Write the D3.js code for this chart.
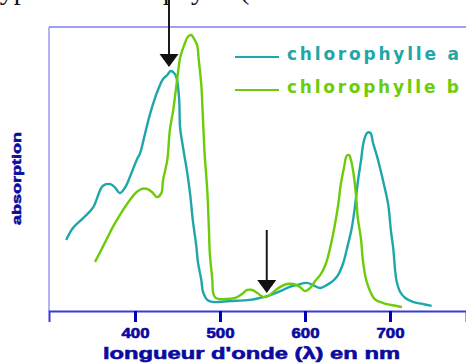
<!DOCTYPE html>
<html>
<head>
<meta charset="utf-8">
<script src="https://cdn.jsdelivr.net/npm/d3@7"></script>
<style>
  html, body { margin: 0; padding: 0; background: #fff; }
  svg { display: block; }
</style>
</head>
<body>
<svg id="chart" width="466" height="363"></svg>
<script>
// ---- data ----
const seriesNames = ["chlorophylle a", "chlorophylle b"];
const chlAWavelength = [319,327,339,351,362,371,377,382,388,394,402,406,412,418,424,427,433,438,442,446,449,452,453,457,461,465,468,472,474,478,480,485,491,512,535,547,559,571,582,591,602,609,618,626,633,639,645,649,655,659,662,666,669,673,677,680,685,688,693,698,701,704,706,708,712,718,727,738,749];
const chlAAbsorption = [25.0,29.2,32.7,36.6,44.0,44.7,43.3,41.5,43.3,47.2,53.2,55.6,62.7,69.7,75.4,77.8,81.7,83.1,84.5,83.8,82.0,74.3,64.8,56.7,49.6,40.8,32.0,23.2,17.3,10.9,6.7,3.9,3.2,3.5,3.9,4.6,5.6,7.0,8.5,9.2,9.9,9.2,8.1,9.2,10.6,12.7,16.9,21.5,29.2,37.3,45.1,53.2,59.5,62.7,62.7,59.2,54.2,50.7,44.4,37.3,28.5,21.5,14.4,10.2,6.7,4.6,3.2,2.5,1.8];
const chlBWavelength = [353,362,368,374,380,386,394,402,408,414,420,426,431,433,438,441,445,447,451,453,458,462,466,469,473,475,478,480,482,485,487,488,491,492,495,506,518,526,532,538,544,551,557,564,571,579,586,594,600,606,612,618,624,629,634,639,642,646,649,652,654,657,660,662,666,668,672,677,682,692,702,714];
const chlBAbsorption = [17.3,22.5,26.1,29.6,32.7,35.6,39.1,41.9,43.0,43.0,41.9,40.1,41.5,46.1,53.2,63.7,70.8,75.4,84.9,89.1,93.7,96.5,97.2,96.1,93.7,88.4,79.6,67.3,54.9,42.6,28.5,20.4,10.9,6.3,4.6,4.2,4.6,6.0,7.4,7.4,6.3,4.9,5.3,7.0,8.5,9.5,9.5,8.5,7.0,8.1,10.6,12.7,16.2,21.5,28.5,37.3,44.4,50.7,54.6,54.9,53.2,48.6,40.8,33.1,25.0,18.0,10.9,6.7,4.2,2.8,2.1,1.4];
const xTicks = [400, 500, 600, 700];
const arrowWavelengths = [440, 555];
const topText = "types de chlorophylle (";
const xTitle = "longueur d'onde (λ) en nm";
const yTitle = "absorption";

// ---- layout ----
const svg = d3.select("#chart");
const pLeft = 49, pTop = 27, pBottom = 311, pRight = 466;
const pxPer100 = 85;
const x = d3.scaleLinear()
  .domain([400 - (135 - pLeft) / pxPer100 * 100, 400 + (pRight - 135) / pxPer100 * 100])
  .range([pLeft, pRight]);
const y = d3.scaleLinear().domain([0, 100]).range([pBottom, pTop]);

const colA = "#1fa6a8", colB = "#6ccc08";
const axisBlue = "#0a0aa0";

// top cut-off text (cropped in the original picture too)
svg.append("text")
  .attr("x", -8).attr("y", -1)
  .attr("font-family", "Liberation Serif, Times New Roman, serif")
  .attr("font-size", 28)
  .attr("fill", "#111")
  .text(topText);

// frame
svg.append("line").attr("x1", pLeft).attr("x2", pRight).attr("y1", pTop).attr("y2", pTop)
  .attr("stroke", "#7f7ff0").attr("stroke-width", 1.5);
svg.append("line").attr("x1", pLeft).attr("x2", pLeft).attr("y1", pTop).attr("y2", pBottom)
  .attr("stroke", "#9a9af2").attr("stroke-width", 1.5);

// x axis
const xAxis = d3.axisBottom(x).tickValues(xTicks).tickSize(11).tickPadding(6).tickFormat(d3.format("d"));
const gx = svg.append("g").attr("transform", `translate(0,${pBottom})`).call(xAxis);
gx.select(".domain").attr("stroke", "#3a3ad6").attr("stroke-width", 2);
gx.selectAll(".tick line").attr("stroke", "#0000b4").attr("stroke-width", 3);
gx.selectAll(".tick text")
  .attr("font-family", "Liberation Sans, Arial, sans-serif")
  .attr("font-weight", "bold").attr("font-size", 14)
  .attr("fill", axisBlue).attr("stroke", axisBlue).attr("stroke-width", 0.6)
  .attr("textLength", 28).attr("lengthAdjust", "spacingAndGlyphs");

// axis titles
svg.append("text")
  .attr("x", 251.5).attr("y", 359)
  .attr("text-anchor", "middle")
  .attr("font-family", "Liberation Sans, Arial, sans-serif")
  .attr("font-weight", "bold").attr("font-size", 17)
  .attr("fill", axisBlue).attr("stroke", axisBlue).attr("stroke-width", 0.6)
  .attr("textLength", 297).attr("lengthAdjust", "spacingAndGlyphs")
  .text(xTitle);
svg.append("text")
  .attr("transform", "translate(21,178.5) rotate(-90)")
  .attr("text-anchor", "middle")
  .attr("font-family", "Liberation Sans, Arial, sans-serif")
  .attr("font-weight", "bold").attr("font-size", 12)
  .attr("fill", axisBlue).attr("stroke", axisBlue).attr("stroke-width", 0.5)
  .attr("textLength", 93).attr("lengthAdjust", "spacingAndGlyphs")
  .text(yTitle);

// curves
const line = d3.line().x(d => x(d[0])).y(d => y(d[1])).curve(d3.curveCatmullRom.alpha(0.5));
const seriesData = [
  { name: seriesNames[0], color: colA, pts: d3.zip(chlAWavelength, chlAAbsorption) },
  { name: seriesNames[1], color: colB, pts: d3.zip(chlBWavelength, chlBAbsorption) }
];
svg.append("g").selectAll("path").data(seriesData).join("path")
  .attr("d", d => line(d.pts))
  .attr("fill", "none")
  .attr("stroke", d => d.color)
  .attr("stroke-width", 2.4)
  .attr("stroke-linejoin", "round");

// legend
const legendY = [57, 90];
const leg = svg.append("g").selectAll("g").data(seriesData).join("g")
  .attr("transform", (d, i) => `translate(0,${legendY[i]})`);
leg.append("line").attr("x1", 235).attr("x2", 279).attr("y1", 0).attr("y2", 0)
  .attr("stroke", d => d.color).attr("stroke-width", 2);
leg.append("text")
  .attr("x", 287).attr("y", 3)
  .attr("font-family", "DejaVu Sans, Verdana, sans-serif")
  .attr("font-weight", "bold").attr("font-size", 17)
  .attr("fill", d => d.color)
  .attr("textLength", 172).attr("lengthAdjust", "spacing")
  .text(d => d.name);

// arrows
const arrows = [
  { wl: arrowWavelengths[0], y0: 0, y1: 54, tip: 67 },
  { wl: arrowWavelengths[1], y0: 230, y1: 280, tip: 293 }
];
const ag = svg.append("g");
arrows.forEach(a => {
  const ax = x(a.wl);
  ag.append("line").attr("x1", ax).attr("x2", ax).attr("y1", a.y0).attr("y2", a.y1 + 1)
    .attr("stroke", "#1a1a1a").attr("stroke-width", 2);
  ag.append("path")
    .attr("d", `M${ax - 9.5},${a.y1} L${ax + 9.5},${a.y1} L${ax},${a.tip} Z`)
    .attr("fill", "#111");
});
</script>
</body>
</html>
